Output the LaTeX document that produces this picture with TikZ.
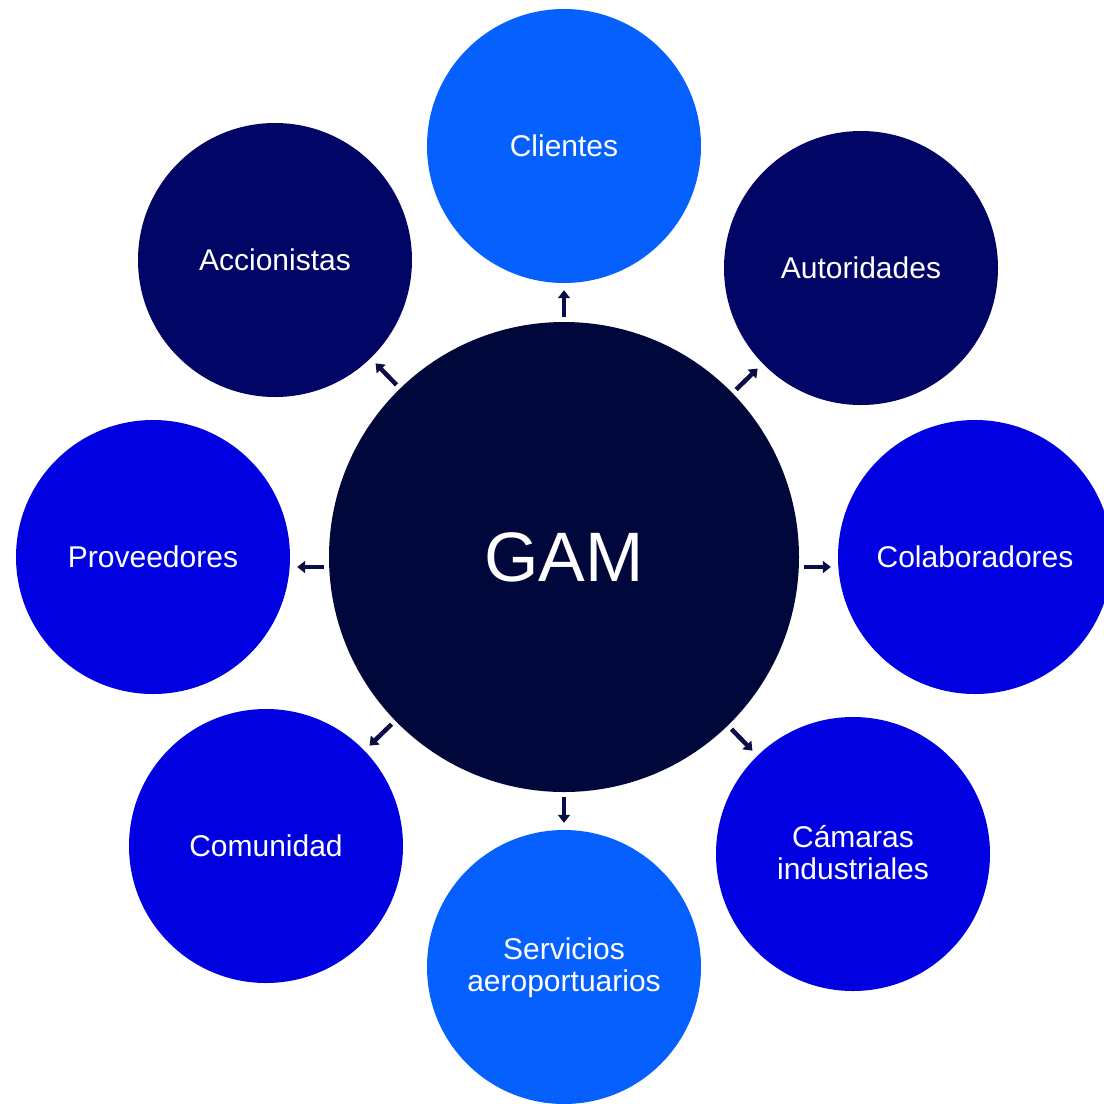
\documentclass[tikz,border=0pt]{standalone}
\usepackage{fontspec}
\setmainfont{Liberation Sans}
\usetikzlibrary{arrows.meta}
\definecolor{cbright}{HTML}{0560FE}
\definecolor{cmid}{HTML}{0000E1}
\definecolor{cnavy}{HTML}{000566}
\definecolor{ccore}{HTML}{00073A}
\definecolor{carrow}{HTML}{0B0E45}
\tikzset{
  outer/.style={circle, inner sep=0pt, minimum size=274pt, text=white, align=center,
    font=\fontsize{30}{32}\selectfont},
  core/.style={circle, inner sep=0pt, minimum size=470pt, fill=ccore, text=white,
    font=\fontsize{70}{80}\selectfont},
  arr/.style={carrow, line width=4.5pt, -{Triangle[width=12pt,length=8pt]},
    shorten <=5pt, shorten >=7pt}
}
\begin{document}
\begin{tikzpicture}[x=1pt,y=-1pt]
\useasboundingbox (0,0) rectangle (1104,1104);
\clip (0,0) rectangle (1104,1104);
\fill[white] (0,0) rectangle (1104,1104);
\node[core] (gam) at (564,557) {GAM};
\node[outer, fill=cbright] (cli) at (564,146) {Clientes};
\node[outer, fill=cnavy] (acc) at (275,260) {Accionistas};
\node[outer, fill=cnavy] (aut) at (861,268) {Autoridades};
\node[outer, fill=cmid] (pro) at (153,557) {Proveedores};
\node[outer, fill=cmid] (col) at (975,557) {Colaboradores};
\node[outer, fill=cmid] (com) at (266,846) {Comunidad};
\node[outer, fill=cbright, text depth=4pt] (ser) at (564,967) {Servicios\\aeroportuarios};
\node[outer, fill=cmid, text depth=4pt] (cam) at (853,854) {Cámaras\\industriales};
\draw[arr] (gam) -- (cli);
\draw[arr] (gam) -- (acc);
\draw[arr] (gam) -- (aut);
\draw[arr] ([yshift=-10pt]gam.west) -- ([yshift=-10pt]pro.east);
\draw[arr] ([yshift=-10pt]gam.east) -- ([yshift=-10pt]col.west);
\draw[arr] (gam) -- (com);
\draw[arr] (gam) -- (ser);
\draw[arr] (gam) -- (cam);
\end{tikzpicture}
\end{document}
